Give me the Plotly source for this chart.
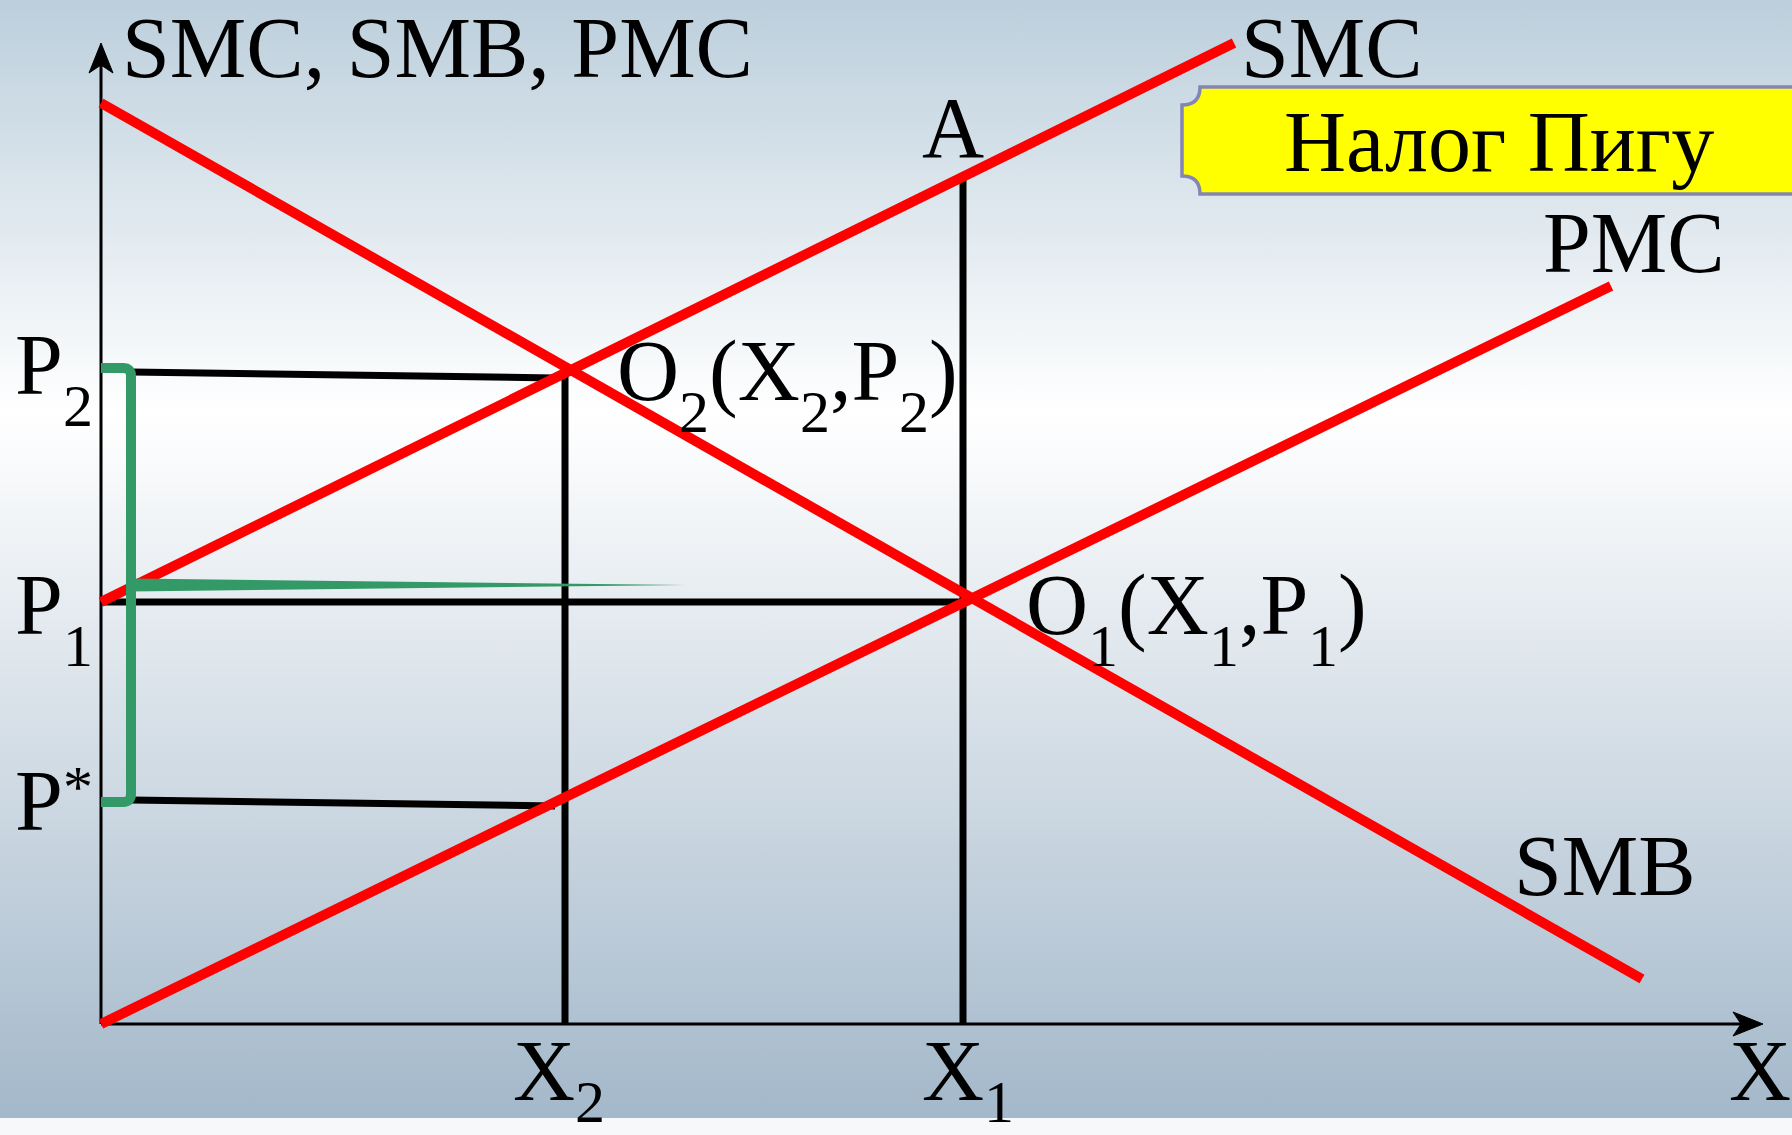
import base64
import plotly.graph_objects as go

# ---------------- data (economic diagram, units of the chart) ----------------
X2, X1 = 4.64, 8.62                 # quantities on the X axis
P_star, P1, P2 = 2.22, 4.22, 6.49   # prices on the vertical axis
A_level = 8.46                      # point A on SMC above X1

SMB_x = [0.0, 15.41]
SMB_y = [9.21, 0.45]
SMC_x = [0.0, 11.33]
SMC_y = [4.22, 9.81]
PMC_x = [0.0, 15.10]
PMC_y = [0.0, 7.38]

x_axis_end = 16.62
y_axis_end = 9.81
bracket_x = 0.30
tax_line_y = 4.39
tax_line_end = 5.84

# ---------------- geometry of the canvas ----------------
W, H = 1792, 1135
OX, OY, U = 101, 1024, 100.0          # origin position (px) and px per unit
X_RANGE = [-OX / U, (W - OX) / U]
Y_RANGE = [-(H - OY) / U, OY / U]


def px(x, y):
    return (x - OX) / U, (OY - y) / U


RED = "#ff0000"
BLACK = "#000000"
GREEN = "#339966"
FONT = "Liberation Serif"
FS = 86
SUB_FS = 60
ASC, DESC, CAP = 0.891, 0.216, 0.662
# advance widths (per em) of Liberation Serif / Times glyphs used in labels
ADV = {'O': .722, 'X': .722, 'P': .556, '(': .333, ')': .333, ',': .25,
       '1': .5, '2': .5, '*': .5, 'S': .556, 'M': .889, 'C': .667,
       'B': .667, 'A': .722, ' ': .25}

fig = go.Figure()

# background gradient (slide background)
svg = (
    "<svg xmlns='http://www.w3.org/2000/svg' width='1792' height='1135' preserveAspectRatio='none'>"
    "<defs><linearGradient id='g' x1='0' y1='0' x2='0' y2='1'>"
    "<stop offset='0' stop-color='#bccfdc'/>"
    "<stop offset='0.37' stop-color='#ffffff'/>"
    "<stop offset='1' stop-color='#a3b8ca'/>"
    "</linearGradient></defs>"
    "<rect x='0' y='0' width='1792' height='1118' fill='url(#g)'/>"
    "<rect x='0' y='1118' width='1792' height='17' fill='#f6f8f9'/>"
    "</svg>"
)
bg_src = "data:image/svg+xml;base64," + base64.b64encode(svg.encode()).decode()


def line(xs, ys, color, width):
    fig.add_trace(go.Scatter(x=xs, y=ys, mode="lines",
                             line=dict(color=color, width=width),
                             hoverinfo="skip", showlegend=False))


# axes
line([0, 0], [0, y_axis_end - 0.2], BLACK, 3)
line([0, x_axis_end - 0.2], [0, 0], BLACK, 3)
# arrowheads (stealth)
ah_len, ah_half, ah_notch = 0.30, 0.12, 0.22
fig.add_trace(go.Scatter(
    x=[0, -ah_half, 0, ah_half, 0],
    y=[y_axis_end, y_axis_end - ah_len, y_axis_end - ah_notch, y_axis_end - ah_len, y_axis_end],
    mode="lines", fill="toself", fillcolor=BLACK, line=dict(color=BLACK, width=1),
    hoverinfo="skip", showlegend=False))
fig.add_trace(go.Scatter(
    x=[x_axis_end, x_axis_end - ah_len, x_axis_end - ah_notch, x_axis_end - ah_len, x_axis_end],
    y=[0, ah_half, 0, -ah_half, 0],
    mode="lines", fill="toself", fillcolor=BLACK, line=dict(color=BLACK, width=1),
    hoverinfo="skip", showlegend=False))

# black guide lines
line([X2, X2], [0, P2], BLACK, 7)
line([X1, X1], [0, A_level], BLACK, 7)
line([0, X1], [P1, P1], BLACK, 7)
line([bracket_x, X2 - 0.1], [P2 + 0.03, P2 - 0.03], BLACK, 7)
line([bracket_x, X2 - 0.1], [P_star + 0.02, P_star - 0.04], BLACK, 7)

# red curves
line(SMB_x, SMB_y, RED, 10)
line(SMC_x, SMC_y, RED, 10)
line(PMC_x, PMC_y, RED, 10)

# green tapered line (tax level)
fig.add_trace(go.Scatter(
    x=[bracket_x, tax_line_end, bracket_x, bracket_x],
    y=[tax_line_y + 0.065, tax_line_y, tax_line_y - 0.065, tax_line_y + 0.065],
    mode="lines", fill="toself", fillcolor=GREEN, line=dict(color=GREEN, width=0),
    hoverinfo="skip", showlegend=False))

# green bracket between P* and P2
top = P2 + 0.07
bot = P_star
r = 0.08
bracket_path = (
    f"M 0,{top} L {bracket_x - r},{top} Q {bracket_x},{top} {bracket_x},{top - r} "
    f"L {bracket_x},{bot + r} Q {bracket_x},{bot} {bracket_x - r},{bot} L 0,{bot}"
)
shapes = [
    dict(type="path", xref="x", yref="y", path=bracket_path,
         line=dict(color=GREEN, width=10), layer="above"),
]

# yellow label box with notched left corners
bl, bt = px(1182, 87)
bb = px(1182, 194)[1]
br, rr = 17.5, 0.18
box_path = (
    f"M {bl + rr},{bt} L {br},{bt} L {br},{bb} L {bl + rr},{bb} "
    f"Q {bl + rr},{bb + rr} {bl},{bb + rr} L {bl},{bt - rr} "
    f"Q {bl + rr},{bt - rr} {bl + rr},{bt} Z"
)
shapes.append(dict(type="path", xref="x", yref="y", path=box_path,
                   fillcolor="#ffff00", line=dict(color="#8585b3", width=3.5),
                   layer="below"))

annotations = []


def put(text, x_px, baseline_px, size, xanchor="left"):
    annotations.append(dict(
        text=text, x=x_px / W, y=1 - (baseline_px + DESC * size) / H,
        xref="paper", yref="paper", xanchor=xanchor, yanchor="bottom",
        showarrow=False, borderpad=0, borderwidth=0,
        font=dict(family=FONT, size=size, color=BLACK)))


def label(pieces, left, cap_top, xanchor="left", sub_drop=32):
    """pieces: list of (text, kind) with kind 'n' normal, 'sub', 'sup'."""
    baseline = cap_top + CAP * FS
    x = left
    for text, kind in pieces:
        if kind == "sub":
            size, base = SUB_FS, baseline + sub_drop
        elif kind == "sup":
            size, base = SUB_FS, baseline - 23
        else:
            size, base = FS, baseline
        put(text, x, base, size, xanchor)
        x += sum(ADV.get(ch, 0.5) for ch in text) * size


label([("SMC, SMB, PMC", "n")], 122, 20)
label([("SMC", "n")], 1241, 20)
label([("A", "n")], 922, 100)
label([("Налог Пигу", "n")], 1499, 114, xanchor="center")
label([("PMC", "n")], 1543, 215)
label([("SMB", "n")], 1514, 838)
label([("O", "n"), ("2", "sub"), ("(X", "n"), ("2", "sub"), (",P", "n"),
       ("2", "sub"), (")", "n")], 617, 343)
label([("O", "n"), ("1", "sub"), ("(X", "n"), ("1", "sub"), (",P", "n"),
       ("1", "sub"), (")", "n")], 1026, 577)
label([("P", "n"), ("2", "sub")], 15, 337)
label([("P", "n"), ("1", "sub")], 15, 577)
label([("P", "n"), ("*", "sup")], 15, 773)
label([("X", "n"), ("2", "sub")], 513, 1043, sub_drop=22)
label([("X", "n"), ("1", "sub")], 922, 1043, sub_drop=22)
label([("X", "n")], 1729, 1043)

fig.update_layout(
    width=W, height=H, autosize=False,
    margin=dict(l=0, r=0, t=0, b=0, pad=0),
    paper_bgcolor="#ffffff", plot_bgcolor="rgba(0,0,0,0)",
    xaxis=dict(range=X_RANGE, visible=False, fixedrange=True),
    yaxis=dict(range=Y_RANGE, visible=False, fixedrange=True),
    images=[dict(source=bg_src, xref="paper", yref="paper", x=0, y=1,
                 sizex=1, sizey=1, sizing="stretch", xanchor="left",
                 yanchor="top", layer="below")],
    shapes=shapes,
    annotations=annotations,
    showlegend=False,
)

fig.write_html("out.html", config={"displayModeBar": False},
               post_script="document.body.style.margin='0px';document.body.style.overflow='hidden';")
